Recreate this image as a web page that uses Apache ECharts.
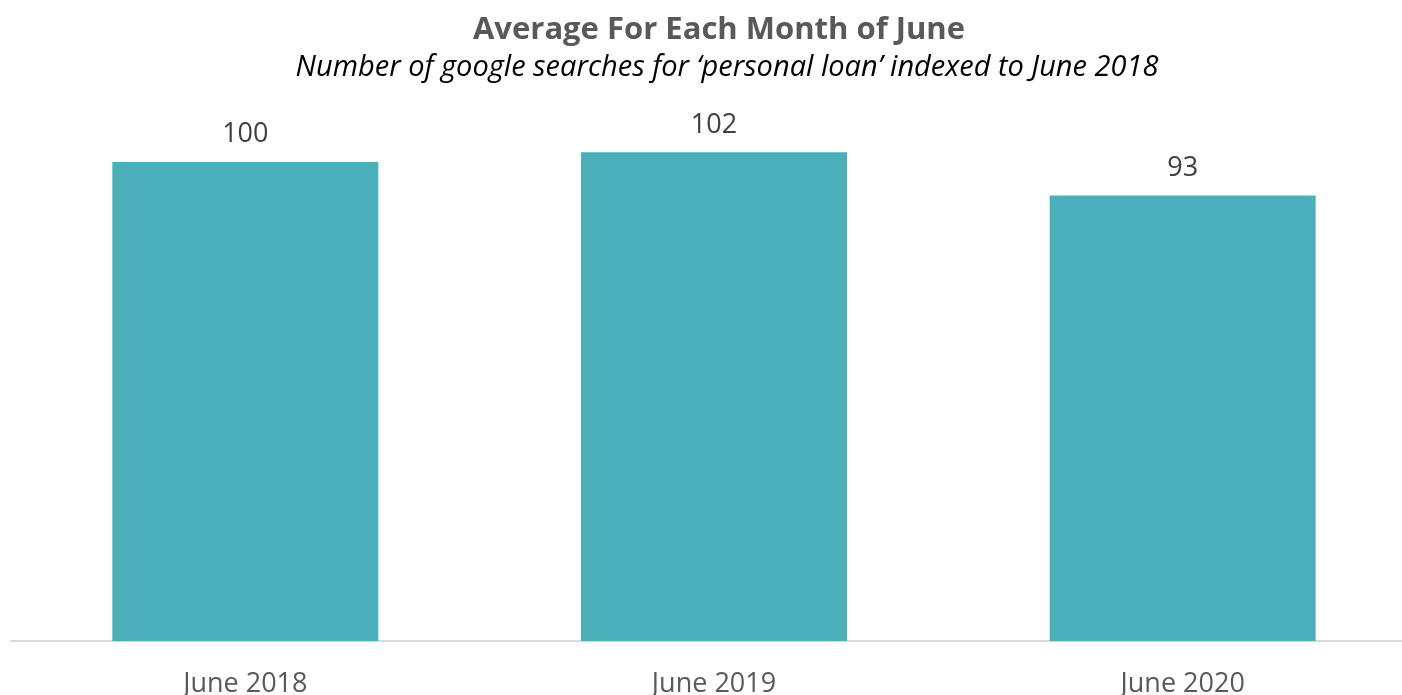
<!DOCTYPE html>
<html>
<head>
<meta charset="utf-8">
<script src="https://cdn.jsdelivr.net/npm/echarts@6/dist/echarts.min.js"></script>
<style>html,body{margin:0;padding:0;background:#fff;overflow:hidden;}#c{width:1417px;height:695px;}</style>
</head>
<body>
<div id="c"></div>
<script>
const categories = ['June 2018', 'June 2019', 'June 2020'];
const values = [100, 102, 93];
const titleText = 'Average For Each Month of June';
const subtitleText = 'Number of google searches for \u2018personal loan\u2019 indexed to June 2018';

const chart = echarts.init(document.getElementById('c'));
chart.setOption({
  animation: false,
  backgroundColor: '#ffffff',
  title: [
    { text: titleText, left: 714, top: 10, textAlign: 'center',
      textStyle: { fontFamily: 'Open Sans', fontWeight: 'bold', fontSize: 31, color: '#595959' } },
    { text: subtitleText, left: 722, top: 48, textAlign: 'center',
      textStyle: { fontFamily: 'Open Sans', fontStyle: 'italic', fontWeight: 'normal', fontSize: 29, color: '#000000' } }
  ],
  grid: { left: 11, top: 114, right: 0, height: 527, containLabel: false, outerBoundsMode: 'none' },
  xAxis: {
    type: 'category', data: categories,
    axisLine: { lineStyle: { color: '#d9d9d9', width: 2 } },
    axisTick: { show: false },
    axisLabel: { color: '#595959', fontFamily: 'Open Sans', fontSize: 27, margin: 30 }
  },
  yAxis: { type: 'value', min: 0, max: 110, show: false, splitLine: { show: false } },
  series: [{
    type: 'bar', data: values, barWidth: 266,
    itemStyle: { color: '#4AAFB8' },
    label: { show: true, position: 'top', distance: 14, color: '#404040', fontFamily: 'Open Sans', fontSize: 27 }
  }]
});
</script>
</body>
</html>
